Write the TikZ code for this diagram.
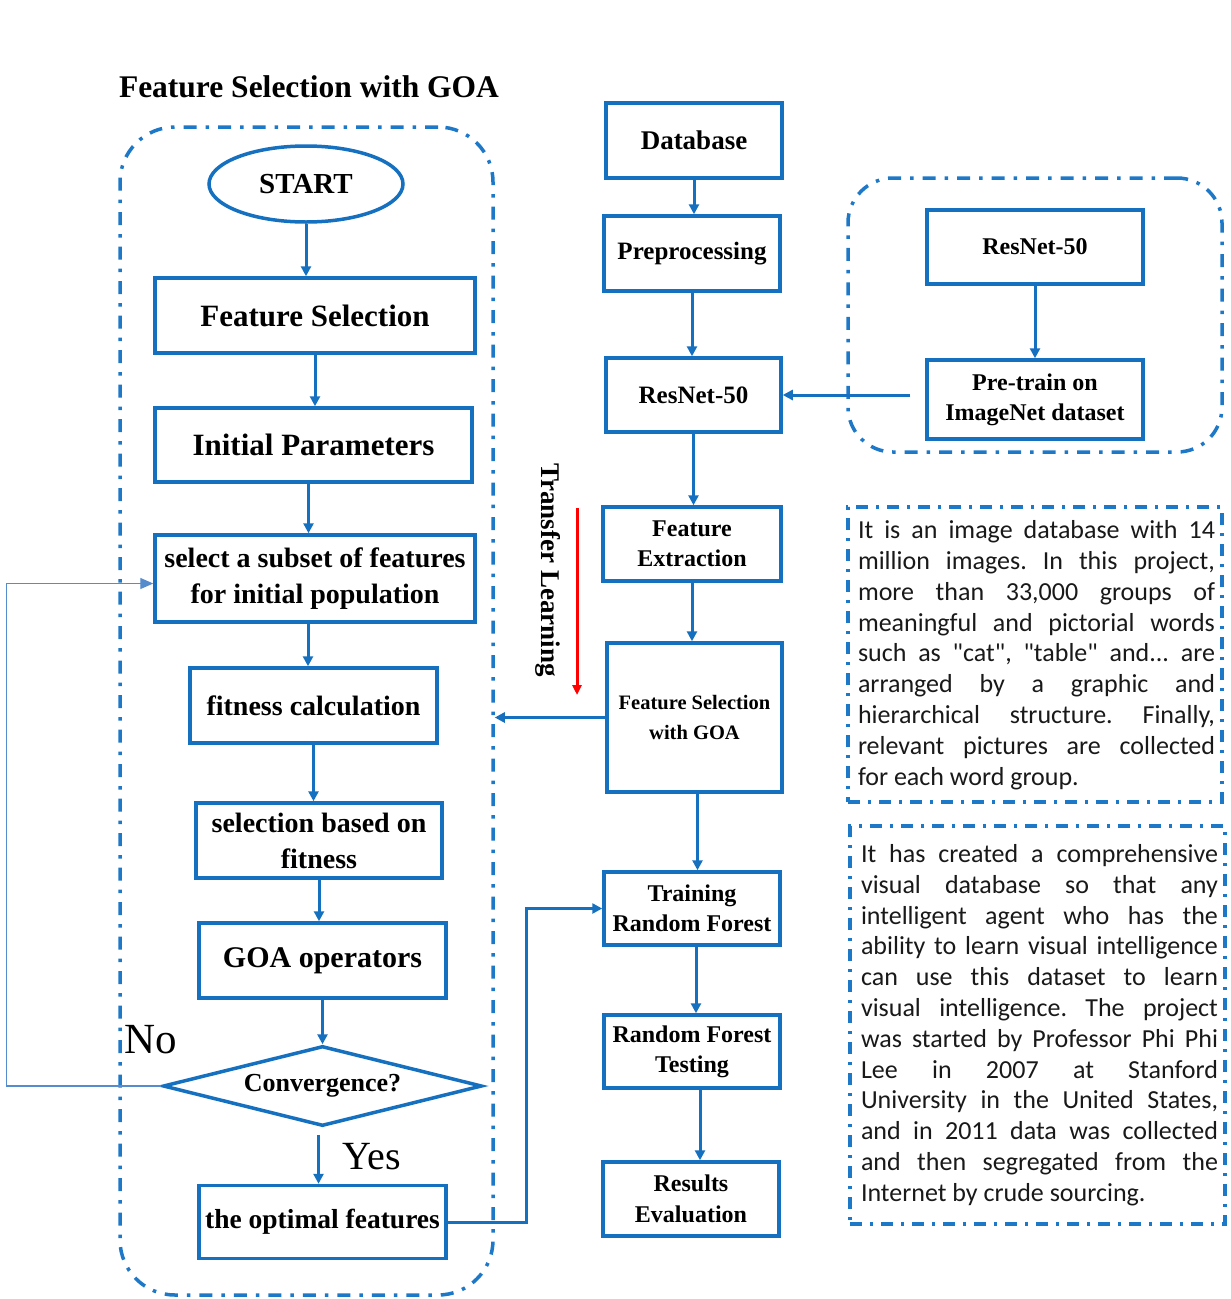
\documentclass[tikz,border=0pt]{standalone}
\usepackage{fontspec}
\setmainfont{Liberation Serif}
\newfontfamily\calfont{Carlito}
\usetikzlibrary{shapes.geometric,arrows.meta,calc}
\definecolor{boxblue}{RGB}{22,112,192}
\definecolor{dashblue}{RGB}{30,120,200}
\definecolor{loopblue}{RGB}{85,140,205}
\definecolor{txtgray}{RGB}{25,25,25}
\newcommand\fsz[2]{\fontsize{#1}{#2}\selectfont}
\newcommand\jl[1]{\makebox[357pt][s]{#1}\\}
\frenchspacing
\begin{document}
\begin{tikzpicture}[x=1pt,y=-1pt,
  box/.style={draw=boxblue, line width=3.5pt, inner sep=0pt, align=center, text=black},
  arr/.style={draw=boxblue, line width=3pt, -{Triangle[length=10pt,width=10pt]}},
  dashdot/.style={draw=dashblue, line width=3.5pt, dash pattern=on 13pt off 9pt on 3.5pt off 9pt},
  tdash/.style={draw=dashblue, line width=3.2pt, dash pattern=on 12pt off 8pt on 3pt off 8pt},
  para/.style={align=left, inner sep=0pt, text=txtgray, font=\calfont\frenchspacing\fsz{26}{30.8}}
]
\useasboundingbox (0,0) rectangle (1231,1299);
\fill[white] (0,0) rectangle (1231,1299);

% title
\node[font=\bfseries\fsz{31.5}{36}] (title) at (309,87) {Feature Selection with GOA};

% big left dash-dot box
\node[dashdot, rounded corners=55pt, minimum width=373pt, minimum height=1168pt, inner sep=0pt] (goabox) at (306.5,711) {};

% left column
\node[box, ellipse, minimum width=194pt, minimum height=76pt, font=\bfseries\fsz{29}{32}] (start) at (306,184) {START};
\node[box, minimum width=320pt, minimum height=75pt, font=\bfseries\fsz{31}{34}] (fs) at (315,315.5) {Feature Selection};
\node[box, minimum width=317pt, minimum height=74pt, font=\bfseries\fsz{31}{34}] (ip) at (313.5,445) {Initial Parameters};
\node[box, minimum width=320pt, minimum height=87pt, font=\bfseries\fsz{28}{36}] (sel) at (315,578.5) {select a subset of features\\for initial population};
\node[box, minimum width=247pt, minimum height=75pt, font=\bfseries\fsz{28}{32}] (fit) at (313.5,705.5) {fitness calculation};
\node[box, minimum width=246pt, minimum height=75pt, font=\bfseries\fsz{28}{36}] (sbf) at (319,840.5) {selection based on\\fitness};
\node[box, minimum width=247pt, minimum height=75pt, font=\bfseries\fsz{30}{34}] (goa) at (322.5,960.5) {GOA operators};
\node[box, diamond, aspect=4, minimum width=319pt, minimum height=80pt, font=\bfseries\fsz{26}{30}] (conv) at (322.5,1086) {Convergence?};
\node[box, minimum width=247pt, minimum height=73pt, font=\bfseries\fsz{27.5}{32}] (opt) at (322.5,1222) {the optimal features};

\node[font=\fsz{43}{48}] (no) at (151,1040) {No};
\node[font=\fsz{40}{46}] (yes) at (372,1157) {Yes};

% right column
\node[box, minimum width=176pt, minimum height=75pt, font=\bfseries\fsz{27}{30}] (db) at (694,140.5) {Database};
\node[box, minimum width=176pt, minimum height=75pt, font=\bfseries\fsz{25}{28}] (pre) at (692,253.5) {Preprocessing};
\node[box, minimum width=175pt, minimum height=74pt, font=\bfseries\fsz{25}{28}] (res) at (693.5,395) {ResNet-50};
\node[box, minimum width=178pt, minimum height=74pt, font=\bfseries\fsz{24}{30}] (fe) at (692,544) {Feature\\Extraction};
\node[box, minimum width=175pt, minimum height=149pt, font=\bfseries\fsz{20.5}{30}] (fsg) at (694.5,717.5) {Feature Selection\\with GOA};
\node[box, minimum width=176pt, minimum height=73pt, font=\bfseries\fsz{24}{30}] (trf) at (692,908.5) {Training\\Random Forest};
\node[box, minimum width=176pt, minimum height=73pt, font=\bfseries\fsz{24}{30}] (rft) at (692,1051.5) {Random Forest\\Testing};
\node[box, minimum width=176pt, minimum height=74pt, font=\bfseries\fsz{24}{31}] (rev) at (691,1199) {Results\\Evaluation};

% transfer learning
\node[rotate=-90, font=\bfseries\fsz{27}{30}] (tl) at (548,570) {Transfer Learning};
\coordinate (rs) at (577,508);
\coordinate (re) at (577,695);
\draw[red, line width=3pt, -{Triangle[length=10pt,width=9pt]}] (rs) -- (re);

% top right box
\node[dashdot, rounded corners=45pt, minimum width=374pt, minimum height=274pt, inner sep=0pt] (tlbox) at (1035,315) {};
\node[box, minimum width=216pt, minimum height=74pt, font=\bfseries\fsz{24}{28}] (rn) at (1035,247) {ResNet-50};
\node[box, minimum width=216pt, minimum height=79pt, font=\bfseries\fsz{24}{30}] (pt) at (1035,399.5) {Pre-train on\\ImageNet dataset};

% text boxes
\node[tdash, minimum width=374pt, minimum height=295pt, inner sep=0pt] (tb1) at (1035,654.5) {};
\node[para] (p1) at (1036.5,655) {\jl{It is an image database with 14}\jl{million images. In this project,}\jl{more than 33,000 groups of}\jl{meaningful and pictorial words}\jl{such as "cat", "table" and... are}\jl{arranged by a graphic and}\jl{hierarchical structure. Finally,}\jl{relevant pictures are collected}for each word group.};
\node[tdash, minimum width=375pt, minimum height=398pt, inner sep=0pt] (tb2) at (1037.5,1025) {};
\node[para] (p2) at (1039.5,1025) {\jl{It has created a comprehensive}\jl{visual database so that any}\jl{intelligent agent who has the}\jl{ability to learn visual intelligence}\jl{can use this dataset to learn}\jl{visual intelligence. The project}\jl{was started by Professor Phi Phi}\jl{Lee in 2007 at Stanford}\jl{University in the United States,}\jl{and in 2011 data was collected}\jl{and then segregated from the}Internet by crude sourcing.};

% left arrows
\draw[arr] (start) -- (start |- fs.north);
\draw[arr] (fs) -- (fs |- ip.north);
\draw[arr] ([xshift=-5pt]ip.south) -- ([xshift=-5pt]ip.south |- sel.north);
\draw[arr] ([xshift=-7pt]sel.south) -- ([xshift=-7pt]sel.south |- fit.north);
\draw[arr] (fit) -- (fit |- sbf.north);
\draw[arr] (sbf) -- (sbf |- goa.north);
\draw[arr] (goa) -- (goa |- conv.north);
\draw[arr, shorten <=7pt] ([xshift=-4pt]conv.south) -- ([xshift=-4pt]conv.south |- opt.north);
\draw[draw=loopblue, line width=1.3pt, -{Triangle[length=13pt,width=11pt]}] (conv.west) -- ++(-155,0) |- ([yshift=-5pt]sel.west);

% right arrows
\draw[arr] (db) -- (db |- pre.north);
\draw[arr] (pre) -- (pre |- res.north);
\draw[arr] (res) -- (res |- fe.north);
\draw[arr] (fe) -- (fe |- fsg.north);
\draw[arr] ([xshift=3pt]fsg.south) -- ([xshift=3pt]fsg.south |- trf.north);
\draw[arr] ([xshift=4pt]trf.south) -- ([xshift=4pt]trf.south |- rft.north);
\draw[arr] ([xshift=8pt]rft.south) -- ([xshift=8pt]rft.south |- rev.north);
\draw[arr] (rn) -- (rn |- pt.north);
\draw[arr, shorten <=15pt] (pt.west |- res) -- (res.east);
\draw[arr] (fsg.west) -- (fsg.west -| goabox.east);
\draw[arr] (opt.east) -- ++(79,0) |- (trf.west);
\end{tikzpicture}
\end{document}
